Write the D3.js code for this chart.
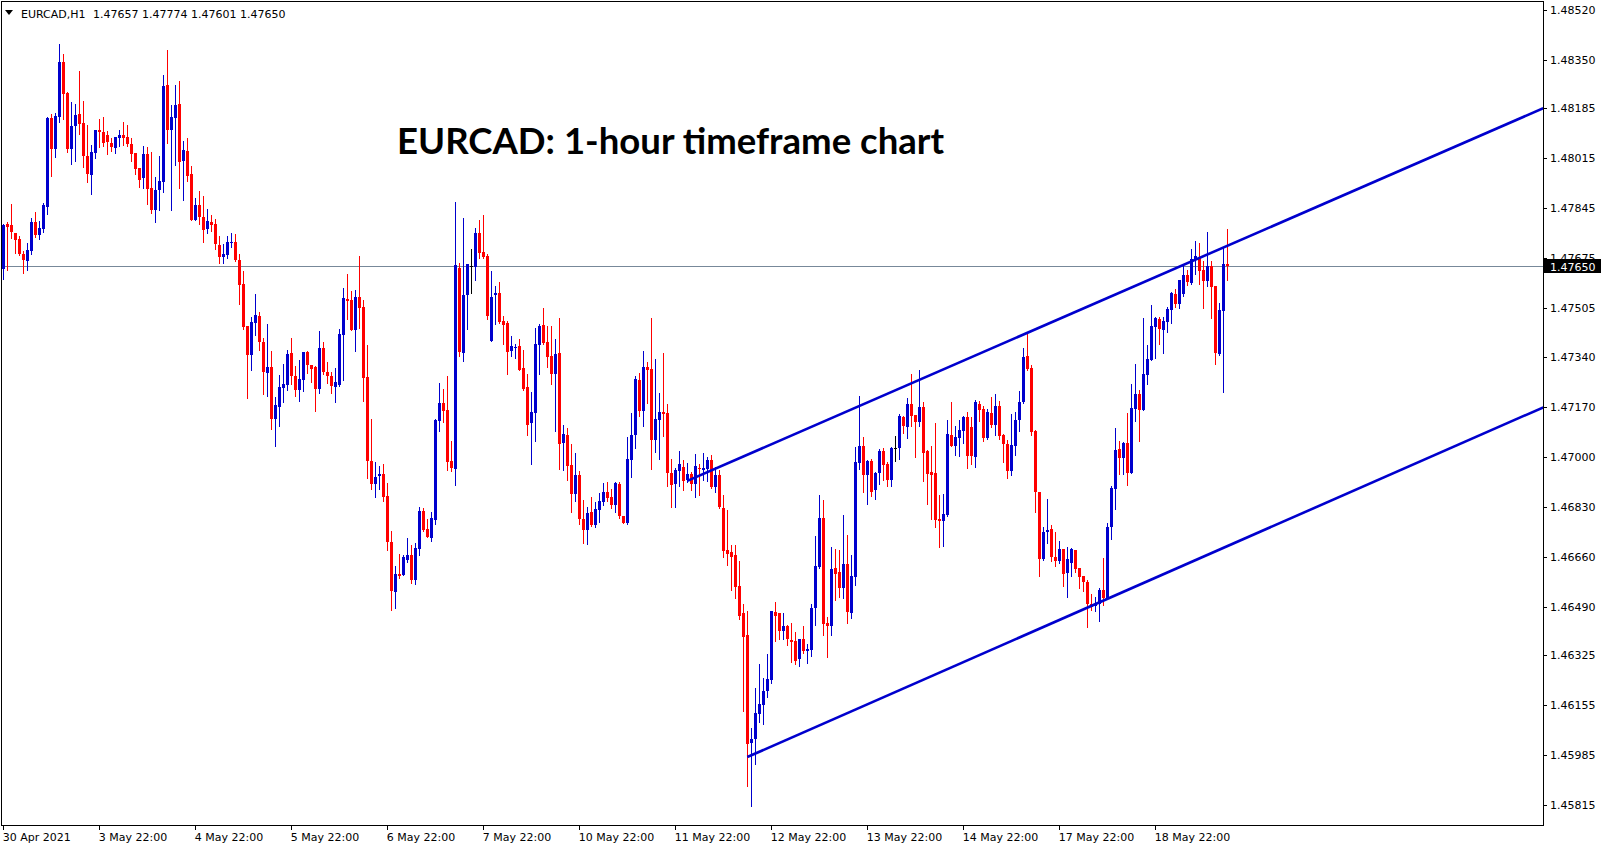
<!DOCTYPE html>
<html><head><meta charset="utf-8">
<script src="https://cdn.jsdelivr.net/npm/d3@7"></script>
<style>html,body{margin:0;padding:0;background:#fff;overflow:hidden}</style>
</head><body><svg id="c" width="1607" height="850"></svg>
<script>
// ---------- DATA ----------
const symbol = "EURCAD,H1";
const lastQuote = [1.47657, 1.47774, 1.47601, 1.47650];
const currentPrice = 1.47650;
const title = "EURCAD: 1-hour timeframe chart";

const open = [
1.47640,1.47790,1.47787,1.47760,1.47739,1.47688,1.47666,1.47700,1.47797,1.47753,
1.47773,1.47849,1.48151,1.48047,1.48155,1.48342,1.48237,1.48047,1.48125,1.48164,
1.48134,1.48023,1.47958,1.48033,1.48110,1.48103,1.48094,1.48067,1.48050,1.48085,
1.48094,1.48086,1.48062,1.48032,1.47981,1.47948,1.48028,1.47913,1.47840,1.47906,
1.47933,1.48263,1.48111,1.48153,1.48198,1.48005,1.48039,1.47960,1.47805,1.47855,
1.47815,1.47775,1.47797,1.47790,1.47719,1.47679,1.47685,1.47727,1.47729,1.47668,
1.47586,1.47444,1.47346,1.47455,1.47478,1.47389,1.47285,1.47304,1.47129,1.47169,
1.47234,1.47243,1.47352,1.47274,1.47226,1.47261,1.47355,1.47312,1.47304,1.47231,
1.47369,1.47287,1.47274,1.47237,1.47245,1.47413,1.47535,1.47532,1.47430,1.47542,
1.47508,1.47270,1.46985,1.46906,1.46934,1.46940,1.46866,1.46710,1.46540,1.46600,
1.46597,1.46648,1.46665,1.46581,1.46685,1.46815,1.46753,1.46723,1.46784,1.47121,
1.47182,1.47158,1.46985,1.46959,1.47641,1.47352,1.47549,1.47649,1.47645,1.47760,
1.47695,1.47682,1.47394,1.47549,1.47556,1.47461,1.47454,1.47359,1.47370,1.47376,
1.47301,1.47236,1.47115,1.47148,1.47379,1.47447,1.47389,1.47342,1.47280,1.47352,
1.47046,1.47073,1.46971,1.46872,1.46937,1.46787,1.46750,1.46811,1.46767,1.46818,
1.46845,1.46879,1.46862,1.46835,1.46906,1.46798,1.46774,1.46988,1.47073,1.47260,
1.47155,1.47304,1.47297,1.47056,1.47124,1.47151,1.47148,1.46944,1.46906,1.46951,
1.46964,1.46921,1.46940,1.46908,1.46961,1.46954,1.46957,1.46988,1.46897,1.46938,
1.46825,1.46682,1.46676,1.46665,1.46561,1.46469,1.46393,1.46027,1.46041,1.46126,
1.46156,1.46204,1.46241,1.46471,1.46468,1.46407,1.46424,1.46377,1.46374,1.46313,
1.46379,1.46340,1.46343,1.46486,1.46625,1.46791,1.46435,1.46425,1.46621,1.46607,
1.46554,1.46634,1.46469,1.46591,1.46978,1.47036,1.46938,1.46985,1.46887,1.46945,
1.47019,1.46976,1.46921,1.47030,1.47030,1.47134,1.47101,1.47178,1.47141,1.47117,
1.47168,1.47019,1.46947,1.46944,1.46787,1.46782,1.46801,1.47073,1.47036,1.47065,
1.47087,1.47134,1.47100,1.46998,1.47178,1.47161,1.47063,1.47148,1.47108,1.47172,
1.47073,1.47042,1.46951,1.47036,1.47124,1.47185,1.47342,1.47301,1.47087,1.46879,
1.46651,1.46743,1.46753,1.46658,1.46645,1.46685,1.46604,1.46638,1.46682,1.46621,
1.46595,1.46574,1.46499,1.46492,1.46499,1.46547,1.46517,1.46762,1.46892,1.47025,
1.46997,1.47046,1.46946,1.47164,1.47212,1.47160,1.47277,1.47328,1.47440,1.47467,
1.47430,1.47457,1.47498,1.47552,1.47521,1.47552,1.47617,1.47590,1.47671,1.47675,
1.47634,1.47597,1.47648,1.47580,1.47351,1.47496,1.47657];

const high = [
1.47792,1.47798,1.47858,1.47760,1.47750,1.47699,1.47726,1.47811,1.47831,1.47802,
1.47863,1.48156,1.48164,1.48169,1.48402,1.48368,1.48240,1.48206,1.48200,1.48312,
1.48210,1.48127,1.48059,1.48112,1.48147,1.48155,1.48107,1.48085,1.48087,1.48110,
1.48137,1.48128,1.48083,1.48032,1.47981,1.48056,1.48052,1.48035,1.47950,1.48023,
1.48297,1.48382,1.48197,1.48265,1.48277,1.48073,1.48083,1.47988,1.47879,1.47904,
1.47886,1.47843,1.47821,1.47809,1.47750,1.47722,1.47750,1.47760,1.47756,1.47688,
1.47632,1.47444,1.47474,1.47552,1.47491,1.47403,1.47450,1.47359,1.47202,1.47277,
1.47314,1.47364,1.47403,1.47308,1.47328,1.47355,1.47359,1.47312,1.47308,1.47427,
1.47389,1.47321,1.47287,1.47301,1.47433,1.47573,1.47620,1.47563,1.47566,1.47682,
1.47532,1.47379,1.47127,1.46981,1.46968,1.46974,1.46910,1.46747,1.46628,1.46668,
1.46665,1.46723,1.46699,1.46706,1.46828,1.46825,1.46787,1.46811,1.47129,1.47251,
1.47229,1.47275,1.47053,1.47865,1.47658,1.47811,1.47654,1.47705,1.47777,1.47804,
1.47821,1.47688,1.47631,1.47580,1.47593,1.47478,1.47461,1.47410,1.47382,1.47399,
1.47362,1.47280,1.47219,1.47437,1.47450,1.47505,1.47444,1.47444,1.47399,1.47471,
1.47107,1.47097,1.47042,1.47012,1.46951,1.46852,1.46828,1.46862,1.46845,1.46876,
1.46910,1.46913,1.46889,1.46913,1.46913,1.46798,1.47066,1.47148,1.47274,1.47284,
1.47359,1.47321,1.47471,1.47331,1.47216,1.47352,1.47178,1.46991,1.46961,1.47019,
1.46988,1.46978,1.46947,1.47008,1.46974,1.47012,1.46998,1.47005,1.46965,1.46954,
1.46869,1.46819,1.46699,1.46699,1.46646,1.46500,1.46476,1.46077,1.46213,1.46294,
1.46247,1.46328,1.46475,1.46505,1.46468,1.46468,1.46427,1.46434,1.46403,1.46379,
1.46424,1.46364,1.46498,1.46730,1.46869,1.46852,1.46455,1.46692,1.46685,1.46682,
1.46801,1.46733,1.46665,1.47032,1.47206,1.47066,1.46988,1.46991,1.46948,1.47027,
1.47029,1.46982,1.47032,1.47070,1.47144,1.47138,1.47199,1.47280,1.47141,1.47294,
1.47185,1.47022,1.47036,1.47114,1.46869,1.46872,1.47124,1.47185,1.47104,1.47124,
1.47138,1.47151,1.47134,1.47192,1.47189,1.47172,1.47161,1.47202,1.47212,1.47189,
1.47076,1.47056,1.47144,1.47151,1.47223,1.47369,1.47423,1.47311,1.47090,1.46879,
1.46760,1.46855,1.46767,1.46743,1.46713,1.46685,1.46692,1.46689,1.46682,1.46621,
1.46595,1.46581,1.46534,1.46523,1.46554,1.46656,1.46776,1.46902,1.47097,1.47053,
1.47049,1.47148,1.47246,1.47314,1.47226,1.47471,1.47379,1.47515,1.47474,1.47474,
1.47474,1.47508,1.47559,1.47569,1.47600,1.47648,1.47634,1.47705,1.47733,1.47726,
1.47665,1.47763,1.47665,1.47580,1.47522,1.47709,1.47774];

const low = [
1.47606,1.47634,1.47744,1.47694,1.47685,1.47625,1.47635,1.47688,1.47747,1.47741,
1.47763,1.47826,1.47955,1.48019,1.48138,1.48149,1.48036,1.47996,1.48005,1.48096,
1.47985,1.47934,1.47894,1.48016,1.48053,1.48057,1.48030,1.48040,1.48034,1.48057,
1.48061,1.48057,1.48007,1.47963,1.47917,1.47913,1.47860,1.47830,1.47798,1.47840,
1.47900,1.48067,1.47840,1.47992,1.47914,1.47873,1.47938,1.47805,1.47805,1.47793,
1.47730,1.47761,1.47769,1.47708,1.47659,1.47659,1.47677,1.47713,1.47666,1.47520,
1.47436,1.47201,1.47294,1.47414,1.47363,1.47212,1.47207,1.47093,1.47037,1.47104,
1.47187,1.47226,1.47249,1.47207,1.47189,1.47223,1.47284,1.47253,1.47156,1.47216,
1.47280,1.47250,1.47216,1.47185,1.47240,1.47260,1.47467,1.47430,1.47359,1.47437,
1.47189,1.46928,1.46889,1.46863,1.46891,1.46850,1.46683,1.46478,1.46486,1.46588,
1.46597,1.46642,1.46571,1.46568,1.46666,1.46747,1.46726,1.46714,1.46772,1.47087,
1.47117,1.46955,1.46952,1.46904,1.47342,1.47325,1.47433,1.47556,1.47600,1.47675,
1.47675,1.47469,1.47394,1.47450,1.47454,1.47382,1.47280,1.47342,1.47335,1.47294,
1.47227,1.47073,1.46974,1.47053,1.47280,1.47382,1.47304,1.47246,1.47087,1.46957,
1.46954,1.46920,1.46811,1.46849,1.46770,1.46706,1.46702,1.46764,1.46760,1.46777,
1.46835,1.46849,1.46825,1.46811,1.46791,1.46774,1.46770,1.46930,1.47029,1.47138,
1.47104,1.47182,1.46957,1.47015,1.46991,1.47070,1.46900,1.46828,1.46828,1.46900,
1.46887,1.46914,1.46887,1.46863,1.46870,1.46920,1.46918,1.46894,1.46880,1.46826,
1.46659,1.46632,1.46547,1.46520,1.46449,1.46136,1.45881,1.45813,1.45956,1.46098,
1.46092,1.46183,1.46231,1.46374,1.46381,1.46381,1.46360,1.46302,1.46296,1.46289,
1.46333,1.46299,1.46323,1.46428,1.46622,1.46394,1.46319,1.46394,1.46513,1.46523,
1.46520,1.46435,1.46452,1.46564,1.46959,1.46880,1.46840,1.46867,1.46857,1.46908,
1.46920,1.46901,1.46901,1.46986,1.46991,1.47081,1.47064,1.47104,1.46998,1.47104,
1.46918,1.46840,1.46787,1.46761,1.46693,1.46697,1.46798,1.47036,1.47005,1.47002,
1.47046,1.46961,1.46974,1.46964,1.47121,1.47053,1.47059,1.47100,1.47073,1.47059,
1.46981,1.46927,1.46937,1.47005,1.47087,1.47182,1.47294,1.47073,1.46811,1.46594,
1.46648,1.46706,1.46645,1.46628,1.46638,1.46560,1.46522,1.46594,1.46607,1.46553,
1.46544,1.46421,1.46479,1.46476,1.46442,1.46496,1.46517,1.46722,1.46824,1.46943,
1.46943,1.46905,1.46946,1.47121,1.47055,1.47160,1.47249,1.47328,1.47335,1.47385,
1.47354,1.47423,1.47454,1.47508,1.47505,1.47548,1.47583,1.47586,1.47620,1.47586,
1.47505,1.47580,1.47471,1.47316,1.47347,1.47220,1.47601];

const close = [
1.47789,1.47781,1.47764,1.47737,1.47688,1.47669,1.47702,1.47798,1.47753,1.47777,
1.47855,1.48152,1.48047,1.48159,1.48342,1.48234,1.48047,1.48125,1.48162,1.48130,
1.48023,1.47962,1.48035,1.48110,1.48104,1.48067,1.48069,1.48053,1.48086,1.48094,
1.48085,1.48064,1.48030,1.47979,1.47941,1.48028,1.47911,1.47839,1.47906,1.47937,
1.48260,1.48111,1.48155,1.48195,1.48002,1.48042,1.47956,1.47805,1.47855,1.47815,
1.47771,1.47801,1.47787,1.47724,1.47679,1.47688,1.47729,1.47729,1.47668,1.47584,
1.47441,1.47347,1.47457,1.47481,1.47390,1.47288,1.47306,1.47129,1.47175,1.47236,
1.47246,1.47348,1.47274,1.47227,1.47263,1.47355,1.47312,1.47299,1.47231,1.47369,
1.47287,1.47274,1.47240,1.47253,1.47416,1.47539,1.47529,1.47430,1.47542,1.47505,
1.47267,1.46985,1.46906,1.46930,1.46940,1.46863,1.46710,1.46544,1.46600,1.46594,
1.46658,1.46665,1.46581,1.46689,1.46815,1.46750,1.46726,1.46791,1.47124,1.47182,
1.47156,1.46981,1.46961,1.47651,1.47355,1.47549,1.47654,1.47649,1.47760,1.47693,
1.47679,1.47478,1.47542,1.47556,1.47457,1.47447,1.47355,1.47376,1.47372,1.47294,
1.47231,1.47107,1.47151,1.47382,1.47444,1.47386,1.47338,1.47280,1.47348,1.47042,
1.47076,1.46968,1.46872,1.46937,1.46787,1.46750,1.46808,1.46767,1.46821,1.46849,
1.46879,1.46859,1.46835,1.46910,1.46798,1.46774,1.46991,1.47073,1.47263,1.47155,
1.47304,1.47294,1.47056,1.47127,1.47151,1.47147,1.46944,1.46903,1.46954,1.46974,
1.46918,1.46940,1.46908,1.46968,1.46957,1.46961,1.46988,1.46897,1.46938,1.46828,
1.46680,1.46670,1.46659,1.46557,1.46459,1.46387,1.46024,1.46039,1.46128,1.46158,
1.46204,1.46243,1.46475,1.46459,1.46407,1.46424,1.46381,1.46369,1.46306,1.46379,
1.46340,1.46347,1.46485,1.46629,1.46791,1.46432,1.46425,1.46617,1.46602,1.46553,
1.46634,1.46471,1.46594,1.46981,1.47036,1.46938,1.46985,1.46880,1.46945,1.47019,
1.46972,1.46921,1.47030,1.47030,1.47138,1.47104,1.47178,1.47138,1.47117,1.47168,
1.47013,1.46940,1.46937,1.46784,1.46781,1.46804,1.47076,1.47036,1.47066,1.47090,
1.47134,1.47002,1.47002,1.47185,1.47158,1.47063,1.47151,1.47108,1.47172,1.47070,
1.47042,1.46951,1.47039,1.47124,1.47185,1.47338,1.47297,1.47083,1.46879,1.46651,
1.46743,1.46750,1.46658,1.46645,1.46685,1.46600,1.46651,1.46685,1.46617,1.46591,
1.46574,1.46499,1.46489,1.46499,1.46547,1.46520,1.46762,1.46895,1.47022,1.46997,
1.47046,1.46946,1.47165,1.47212,1.47160,1.47280,1.47331,1.47444,1.47471,1.47433,
1.47461,1.47501,1.47556,1.47518,1.47600,1.47617,1.47593,1.47671,1.47682,1.47633,
1.47598,1.47648,1.47576,1.47353,1.47498,1.47654,1.47650];

const xTickBars = [0,24,48,72,96,120,144,168,192,216,240,264,288];
const xTickLabels = ["30 Apr 2021","3 May 22:00","4 May 22:00","5 May 22:00","6 May 22:00",
  "7 May 22:00","10 May 22:00","11 May 22:00","12 May 22:00","13 May 22:00",
  "14 May 22:00","17 May 22:00","18 May 22:00"];
const yTickValues = [1.48520,1.48350,1.48185,1.48015,1.47845,1.47675,1.47505,1.47340,
  1.47170,1.47000,1.46830,1.46660,1.46490,1.46325,1.46155,1.45985,1.45815];

// trend channel anchors: [bar index, price]
const trendUpper = [[171, 1.46918], [385, 1.48185]];
const trendLower = [[186, 1.45979], [385, 1.47168]];

// ---------- LAYOUT ----------
const L = 1, T = 1, R = 1543, B = 825;
const BULL = "#0000CD", BEAR = "#FF0000", FONT = "'DejaVu Sans', Verdana, sans-serif";
const svg = d3.select("#c");
const x = d3.scaleLinear().domain([0, open.length - 1]).range([3.3, 3.3 + 4 * (open.length - 1)]);
const y = d3.scaleLinear().domain([1.45815, 1.48520]).range([805.3, 9.7]);

svg.append("rect").attr("width", 1607).attr("height", 850).attr("fill", "#fff");

svg.append("defs").append("clipPath").attr("id", "plot")
  .append("rect").attr("x", L + 1).attr("y", T + 1).attr("width", R - L - 1).attr("height", B - T - 1);

const plot = svg.append("g").attr("clip-path", "url(#plot)");

// current price line
const yp = Math.round(y(currentPrice)) + 0.5;
plot.append("line").attr("x1", L).attr("x2", R).attr("y1", yp).attr("y2", yp)
  .attr("stroke", "#778899").attr("stroke-width", 1).attr("shape-rendering", "crispEdges");

// candles
const idx = d3.range(open.length);
const colorOf = i => close[i] > open[i] ? BULL : (close[i] < open[i] ? BEAR : "#000");
const cg = plot.append("g").attr("shape-rendering", "crispEdges");
cg.selectAll("rect.w").data(idx).join("rect").attr("class", "w")
  .attr("x", i => Math.round(x(i)))
  .attr("width", 1)
  .attr("y", i => Math.round(y(high[i])))
  .attr("height", i => Math.max(1, Math.round(y(low[i])) - Math.round(y(high[i])) + 1))
  .attr("fill", colorOf);
cg.selectAll("rect.b").data(idx).join("rect").attr("class", "b")
  .attr("x", i => Math.round(x(i)) - 1)
  .attr("width", 3)
  .attr("y", i => Math.round(y(Math.max(open[i], close[i]))))
  .attr("height", i => Math.max(1, Math.round(y(Math.min(open[i], close[i]))) - Math.round(y(Math.max(open[i], close[i])))))
  .attr("fill", colorOf);

// trend lines
[trendUpper, trendLower].forEach(t => {
  plot.append("line")
    .attr("x1", x(t[0][0])).attr("y1", y(t[0][1]))
    .attr("x2", x(t[1][0])).attr("y2", y(t[1][1]))
    .attr("stroke", BULL).attr("stroke-width", 2.6).attr("stroke-linecap", "butt");
});

// frame
svg.append("rect").attr("x", L + 0.5).attr("y", T + 0.5).attr("width", R - L).attr("height", B - T)
  .attr("fill", "none").attr("stroke", "#000").attr("stroke-width", 1).attr("shape-rendering", "crispEdges");

// bottom axis
const ax = svg.append("g").attr("transform", `translate(0,${B})`)
  .call(d3.axisBottom(x).tickValues(xTickBars).tickFormat((d, i) => xTickLabels[i]).tickSize(5).tickSizeOuter(0));
ax.select(".domain").remove();
ax.selectAll("line").attr("stroke", "#000").attr("shape-rendering", "crispEdges");
ax.selectAll("text").attr("text-anchor", "start").attr("x", -1).attr("y", 8)
  .attr("font-family", FONT).attr("font-size", 11).attr("fill", "#000");

// right axis
const ay = svg.append("g").attr("transform", `translate(${R},0)`)
  .call(d3.axisRight(y).tickValues(yTickValues).tickFormat(d3.format(".5f")).tickSize(4).tickSizeOuter(0));
ay.select(".domain").remove();
ay.selectAll("line").attr("stroke", "#000").attr("shape-rendering", "crispEdges");
ay.selectAll("text").attr("x", 7).attr("font-family", FONT).attr("font-size", 11).attr("fill", "#000");

// current price label
svg.append("rect").attr("x", R + 1).attr("y", yp - 7.5).attr("width", 57).attr("height", 14).attr("fill", "#000");
svg.append("text").attr("x", R + 7).attr("y", yp + 4).text(d3.format(".5f")(currentPrice))
  .attr("font-family", FONT).attr("font-size", 11).attr("fill", "#fff");

// header
svg.append("path").attr("d", "M5,10 L13,10 L9,15 Z").attr("fill", "#000");
svg.append("text").attr("x", 21).attr("y", 18).text(symbol)
  .attr("font-family", FONT).attr("font-size", 11).attr("fill", "#000");
svg.append("text").attr("x", 93).attr("y", 18).text(lastQuote.map(d3.format(".5f")).join(" "))
  .attr("font-family", FONT).attr("font-size", 11).attr("fill", "#000");

// title
svg.append("text").attr("x", 397).attr("y", 154).text(title)
  .attr("font-family", "Lato, 'Open Sans', sans-serif").attr("font-weight", 700)
  .attr("font-size", 36).attr("fill", "#000")
  .attr("textLength", 547).attr("lengthAdjust", "spacingAndGlyphs");
</script>
</body></html>
